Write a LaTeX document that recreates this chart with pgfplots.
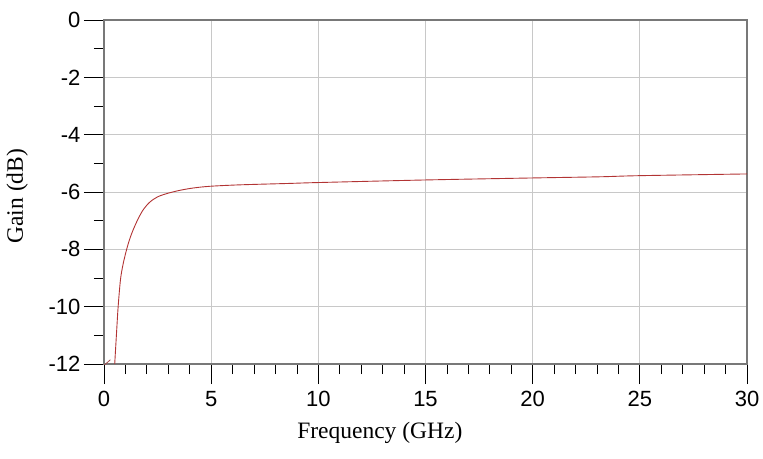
\documentclass[border=0pt]{standalone}
\usepackage{pgfplots}
\pgfplotsset{compat=1.18}
\usepackage{fontspec}
\setmainfont{Liberation Serif}
\newfontfamily\arialfont{Liberation Sans}
\definecolor{curve}{RGB}{178,52,52}
\definecolor{gridc}{RGB}{200,200,200}
\definecolor{framec}{RGB}{120,120,120}
\begin{document}
\begin{tikzpicture}
\begin{axis}[
  at={(0pt,0pt)}, anchor=south west,
  scale only axis, width=643pt, height=344pt,
  xmin=0, xmax=30, ymin=-12, ymax=0,
  xtick={0,5,10,15,20,25,30},
  ytick={-12,-10,-8,-6,-4,-2,0},
  yticklabels={-12,-10,-8,-6,-4,-2,0},
  minor x tick num=4, minor y tick num=1,
  tick pos=left, tick align=outside,
  major tick length=20pt, minor tick length=10pt,
  every tick/.style={black, line width=0.8pt},
  xmajorgrids, ymajorgrids,
  grid style={gridc, line width=0.9pt},
  axis line style={framec, line width=1.1pt},
  /pgf/number format/assume math mode=true,
  tick label style={font=\arialfont\fontsize{22}{22}\selectfont},
  xticklabel style={yshift=-4pt},
  label style={font=\fontsize{23.5}{26}\selectfont},
  xlabel={Frequency (GHz)},
  ylabel={Gain (dB)},
  xlabel style={at={(axis description cs:0.429,-0.2)}, anchor=center},
  ylabel style={at={(axis description cs:-0.135,0.488)}, anchor=center},
  clip=true,
]
\addplot[curve, line width=0.9pt, smooth, tension=0.5] coordinates {
(0.50,-12.0) (0.58,-10.98) (0.66,-10.0) (0.77,-9.05) (0.89,-8.52)
(1.05,-8.02) (1.2,-7.64) (1.36,-7.32) (1.59,-6.94) (1.83,-6.62)
(2.14,-6.35) (2.53,-6.16) (3.0,-6.04) (3.55,-5.94) (4.17,-5.86)
(4.95,-5.80) (6.35,-5.75) (8.68,-5.70) (10,-5.67)
(15,-5.58) (20,-5.51) (23.1,-5.47) (25,-5.43) (30,-5.37)
};
\addplot[curve!70!gray, line width=0.8pt] coordinates {(0,-12.05) (0.3,-11.85)};
\end{axis}
\path[use as bounding box] (-104pt,-94pt) rectangle (659pt,364pt);
\end{tikzpicture}
\end{document}
